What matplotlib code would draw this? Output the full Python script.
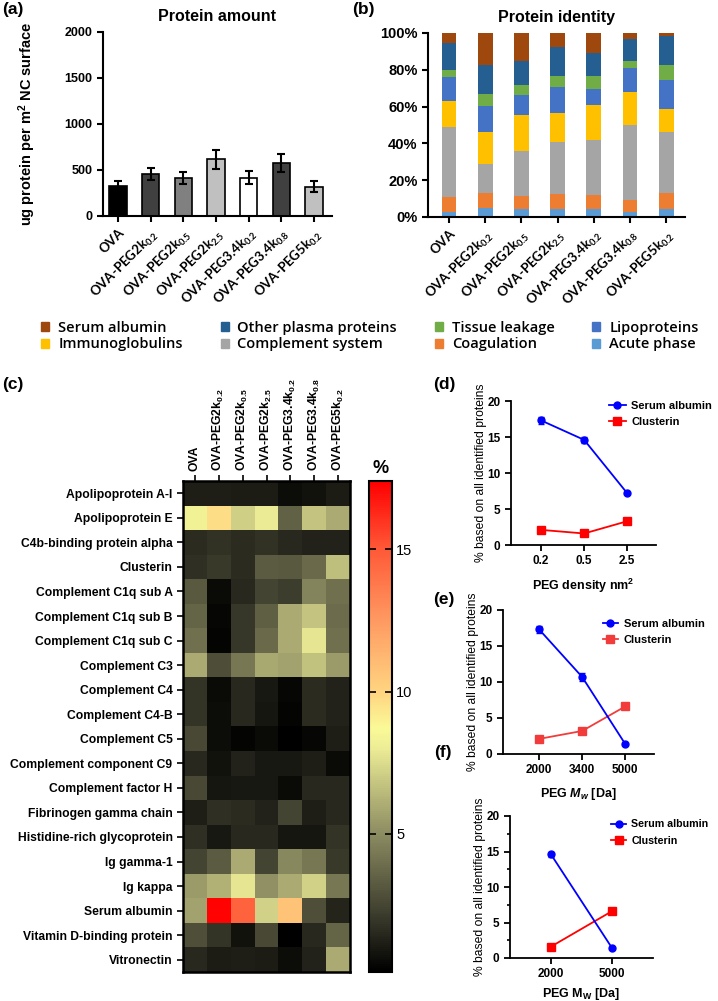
import numpy as np
import matplotlib
matplotlib.use('Agg')
import matplotlib.pyplot as plt
from matplotlib.colors import LinearSegmentedColormap, Normalize
from matplotlib.patches import Patch
from matplotlib.lines import Line2D
from matplotlib.ticker import FuncFormatter, MultipleLocator

plt.rcParams['font.family'] = ['Liberation Sans', 'DejaVu Sans']
plt.rcParams['mathtext.fontset'] = 'custom'
plt.rcParams['mathtext.rm'] = 'Liberation Sans'
plt.rcParams['mathtext.it'] = 'Liberation Sans:italic:bold'
plt.rcParams['mathtext.bf'] = 'Liberation Sans:bold'

# ---------------- data ----------------
samples = ['OVA', 'OVA-PEG2k$_{\\mathregular{0.2}}$', 'OVA-PEG2k$_{\\mathregular{0.5}}$',
           'OVA-PEG2k$_{\\mathregular{2.5}}$', 'OVA-PEG3.4k$_{\\mathregular{0.2}}$',
           'OVA-PEG3.4k$_{\\mathregular{0.8}}$', 'OVA-PEG5k$_{\\mathregular{0.2}}$']

amount = [330, 457, 414, 617, 417, 573, 319]
amount_err = [51, 70, 65, 105, 73, 98, 58]
amount_colors = ['#000000', '#404040', '#808080', '#c0c0c0', '#ffffff', '#404040', '#c0c0c0']

identity_classes = ['Acute phase', 'Coagulation', 'Complement system', 'Immunoglobulins',
                    'Lipoproteins', 'Tissue leakage', 'Other plasma proteins', 'Serum albumin']
acute = [2.5, 4.7, 4.3, 4.2, 4.2, 2.7, 4.5]
coag = [8.2, 8.2, 6.9, 8.1, 7.6, 6.7, 8.7]
complement = [38.2, 15.7, 24.7, 28.6, 29.9, 40.8, 32.8]
immuno = [14.0, 17.4, 19.7, 15.6, 19.0, 17.6, 12.7]
lipo = [13.0, 14.5, 10.5, 14.2, 8.9, 13.4, 15.9]
tissue = [4.1, 6.5, 5.5, 6.1, 7.2, 3.4, 8.2]
other = [14.6, 15.4, 13.4, 15.6, 12.3, 12.3, 15.8]
albumin = [5.4, 17.6, 15.0, 7.6, 10.9, 3.1, 1.4]
class_colors = ['#5B9BD5', '#ED7D31', '#A5A5A5', '#FFC000', '#4472C4', '#70AD47', '#255E91', '#9E480E']

proteins = ['Apolipoprotein A-I', 'Apolipoprotein E', 'C4b-binding protein alpha', 'Clusterin',
            'Complement C1q sub A', 'Complement C1q sub B', 'Complement C1q sub C', 'Complement C3',
            'Complement C4', 'Complement C4-B', 'Complement C5', 'Complement component C9',
            'Complement factor H', 'Fibrinogen gamma chain', 'Histidine-rich glycoprotein',
            'Ig gamma-1', 'Ig kappa', 'Serum albumin', 'Vitamin D-binding protein', 'Vitronectin']
heat = [
    [1.2, 1.2, 1.1, 1.1, 0.6, 0.8, 1.1],
    [8.3, 9.7, 7.1, 8.0, 3.5, 6.8, 6.0],
    [1.6, 1.8, 1.6, 1.8, 1.5, 1.3, 1.3],
    [1.7, 2.1, 1.6, 3.3, 3.2, 3.8, 6.6],
    [3.2, 0.5, 1.5, 2.5, 2.2, 4.7, 4.0],
    [3.6, 0.4, 2.0, 3.4, 6.0, 6.8, 3.9],
    [4.0, 0.35, 2.0, 3.8, 6.0, 7.8, 4.0],
    [6.0, 2.8, 4.3, 5.9, 5.7, 6.7, 5.5],
    [1.9, 0.5, 1.5, 1.0, 0.4, 1.6, 1.3],
    [1.9, 0.6, 1.5, 0.9, 0.3, 1.6, 1.3],
    [2.6, 0.6, 0.3, 0.5, 0.15, 0.4, 1.2],
    [1.5, 0.8, 1.3, 1.0, 1.0, 1.2, 0.5],
    [2.6, 0.9, 1.0, 1.0, 0.5, 1.5, 1.5],
    [1.2, 1.7, 1.6, 1.3, 2.5, 1.2, 1.5],
    [1.7, 1.0, 1.5, 1.5, 0.9, 0.9, 1.9],
    [2.5, 3.3, 6.0, 2.5, 4.9, 4.3, 2.1],
    [5.5, 6.2, 7.8, 5.2, 6.0, 7.2, 4.3],
    [5.7, 17.3, 14.6, 7.2, 10.7, 2.9, 1.4],
    [2.9, 1.9, 0.8, 2.6, 0.15, 1.5, 3.6],
    [1.5, 1.1, 1.2, 1.1, 0.6, 1.3, 6.0],
]
heat_min, heat_max = 0.15, 17.4
cbar_ticks = [5, 10, 15]

density_labels = ['0.2', '0.5', '2.5']
density_albumin = [17.3, 14.6, 7.2]
density_albumin_err = [0.5, 0.4, 0.1]
density_clusterin = [2.1, 1.6, 3.3]

mw_labels = ['2000', '3400', '5000']
mw_albumin = [17.3, 10.7, 1.4]
mw_albumin_err = [0.5, 0.5, 0.1]
mw_clusterin = [2.1, 3.2, 6.6]

mw2_labels = ['2000', '5000']
mw2_albumin = [14.6, 1.4]
mw2_albumin_err = [0.4, 0.1]
mw2_clusterin = [1.6, 6.6]

# ---------------- figure ----------------
W, H = 718, 1001
fig = plt.figure(figsize=(W / 100, H / 100), dpi=100)


def add_ax(l, t, r, b):
    return fig.add_axes([l / W, 1 - b / H, (r - l) / W, (b - t) / H])


def style_spines(ax, lw=1.5):
    for s in ['top', 'right']:
        ax.spines[s].set_visible(False)
    for s in ['left', 'bottom']:
        ax.spines[s].set_linewidth(lw)
    ax.tick_params(width=lw, length=4, direction='out')


bold_lato = dict(family=['Lato', 'DejaVu Sans'], weight='bold')

# ---- (a) ----
axa = add_ax(103, 32, 332, 216)
xa = np.arange(len(samples))
axa.bar(xa, amount, width=0.53, color=amount_colors, edgecolor='black', linewidth=1.2,
        yerr=amount_err, error_kw=dict(ecolor='black', elinewidth=1.5, capsize=3, capthick=1.5))
axa.set_xlim(-0.46, 6.55)
axa.set_ylim(0, 2000)
axa.set_yticks([0, 500, 1000, 1500, 2000])
style_spines(axa)
axa.set_xticks(xa)
axa.set_xticklabels(samples, rotation=45, ha='right', rotation_mode='anchor', fontsize=9.5, **bold_lato)
for t in axa.get_yticklabels():
    t.set_fontweight('bold'); t.set_fontsize(9)
axa.set_ylabel('ug protein per m$^{\\mathregular{2}}$ NC surface', fontsize=10.5, fontweight='bold', labelpad=19)
axa.set_title('Protein amount', fontsize=11.5, fontweight='bold', pad=8)

# ---- (b) ----
axb = add_ax(428, 33, 685, 217)
series = [acute, coag, complement, immuno, lipo, tissue, other, albumin]
bottom = np.zeros(len(samples))
for vals, col in zip(series, class_colors):
    axb.bar(xa, vals, width=0.41, bottom=bottom, color=col, linewidth=0)
    bottom += np.array(vals)
axb.set_xlim(-0.58, 6.52)
axb.set_ylim(0, 100)
axb.set_yticks([0, 20, 40, 60, 80, 100])
axb.yaxis.set_major_formatter(FuncFormatter(lambda v, p: f'{int(v)}%'))
style_spines(axb)
axb.set_xticks(xa)
axb.set_xticklabels(samples, rotation=45, ha='right', rotation_mode='anchor', fontsize=9.5, **bold_lato)
for t in axb.get_yticklabels():
    t.set_fontweight('bold'); t.set_fontsize(10.5)
axb.set_title('Protein identity', fontsize=11.5, fontweight='bold', pad=8)

# legend for (b)
handles = [Patch(color=c) for c in class_colors]
order = [7, 3, 6, 2, 5, 1, 4, 0]
fig.legend([handles[i] for i in order], [identity_classes[i] for i in order], ncol=4,
           loc='center', bbox_to_anchor=(370 / W, 1 - 336 / H), frameon=False,
           prop=dict(family=['Open Sans', 'DejaVu Sans'], weight='semibold', size=10.5),
           handlelength=0.55, handleheight=0.55,
           handletextpad=0.6, columnspacing=2.6, labelspacing=0.2)

# ---- (c) heatmap ----
colors_nodes = [(0.15, '#000000'), (2.0, '#38382a'), (5.0, '#8c8c62'), (8.0, '#ecec96'),
                (8.7, '#fafa98'), (10.0, '#ffd480'), (12.5, '#ff9a62'), (15.0, '#ff5a38'),
                (17.4, '#ff0000')]
cmap = LinearSegmentedColormap.from_list(
    'heat', [((v - heat_min) / (heat_max - heat_min), c) for v, c in colors_nodes])
axc = add_ax(183, 481, 350, 972)
im = axc.imshow(np.array(heat), cmap=cmap, norm=Normalize(heat_min, heat_max), aspect='auto',
                interpolation='nearest')
axc.xaxis.tick_top()
axc.set_xticks(range(len(samples)))
axc.set_xticklabels(samples, rotation=90, fontsize=8.7, fontweight='bold')
axc.set_yticks(range(len(proteins)))
axc.set_yticklabels(proteins, fontsize=8.7, fontweight='bold')
axc.tick_params(width=1.2, length=4)
for s in axc.spines.values():
    s.set_linewidth(1.8)

cax = add_ax(369, 481, 392, 972)
cb = fig.colorbar(im, cax=cax, ticks=cbar_ticks)
cb.outline.set_linewidth(1.5)
cax.tick_params(left=True, right=True, direction='in', length=5, width=1.2, labelsize=10.5, pad=3)
cax.set_title('%', fontsize=13, fontweight='bold', pad=6)

# ---- line panels ----
def line_panel(ax, labels, alb, alb_err, clu, xl, xr, clu_color, xlabel, minor, leg_xy, hl, xpad, lfs):
    x = np.arange(1, len(labels) + 1)
    ax.errorbar(x, alb, yerr=alb_err, color='#0000ff', marker='o', markersize=5, lw=1.3,
                capsize=2.5, elinewidth=1.3)
    ax.plot(x, clu, color=clu_color, marker='s', markersize=5.5, lw=1.3)
    ax.set_xlim(xl, xr)
    ax.set_ylim(0, 20)
    ax.set_yticks([0, 5, 10, 15, 20])
    if minor:
        ax.yaxis.set_minor_locator(MultipleLocator(2.5))
        ax.tick_params(which='minor', length=2.5, width=1.2)
    ax.set_xticks(x)
    ax.set_xticklabels(labels)
    style_spines(ax, 1.3)
    for t in ax.get_xticklabels() + ax.get_yticklabels():
        t.set_fontweight('bold'); t.set_fontsize(8.5)
    ax.set_ylabel('% based on all identified proteins', fontsize=8.7, labelpad=0)
    ax.set_xlabel(xlabel, fontsize=9, fontweight='bold', labelpad=xpad)
    hs = [Line2D([], [], color='#0000ff', marker='o', markersize=5, lw=1.3),
          Line2D([], [], color=clu_color, marker='s', markersize=5.5, lw=1.3)]
    fig.legend(hs, ['Serum albumin', 'Clusterin'], loc='upper left',
               bbox_to_anchor=(leg_xy[0] / W, 1 - leg_xy[1] / H), frameon=False, borderpad=0,
               prop=dict(weight='bold', size=lfs), handlelength=hl, handletextpad=0.5,
               labelspacing=0.6)

axd = add_ax(511, 401, 656, 545)
line_panel(axd, density_labels, density_albumin, density_albumin_err, density_clusterin,
           0.3, 3.67, '#ff0000', 'PEG density nm$^{\\mathregular{2}}$', False, (603, 395), 1.55, 7, 8)
axe = add_ax(503, 610, 654, 754)
line_panel(axe, mw_labels, mw_albumin, mw_albumin_err, mw_clusterin,
           0.16, 3.67, '#f23c3c', 'PEG $M_w$ [Da]', False, (597, 613), 1.4, 7, 8)
axf = add_ax(510, 816, 653, 958)
line_panel(axf, mw2_labels, mw2_albumin, mw2_albumin_err, mw2_clusterin,
           0.33, 2.67, '#ff0000', 'PEG M$_{\\mathregular{W}}$ [Da]', True, (606, 814), 1.35, 4, 7.7)

# panel letters
for txt, x, y in [('(a)', 2, 2), ('(b)', 352, 2), ('(c)', 2, 377), ('(d)', 433, 377),
                  ('(e)', 433, 592), ('(f)', 434, 745)]:
    fig.text(x / W, 1 - y / H, txt, fontsize=12.5, fontweight='bold', va='top', ha='left')

fig.savefig('out.png', dpi=100)
